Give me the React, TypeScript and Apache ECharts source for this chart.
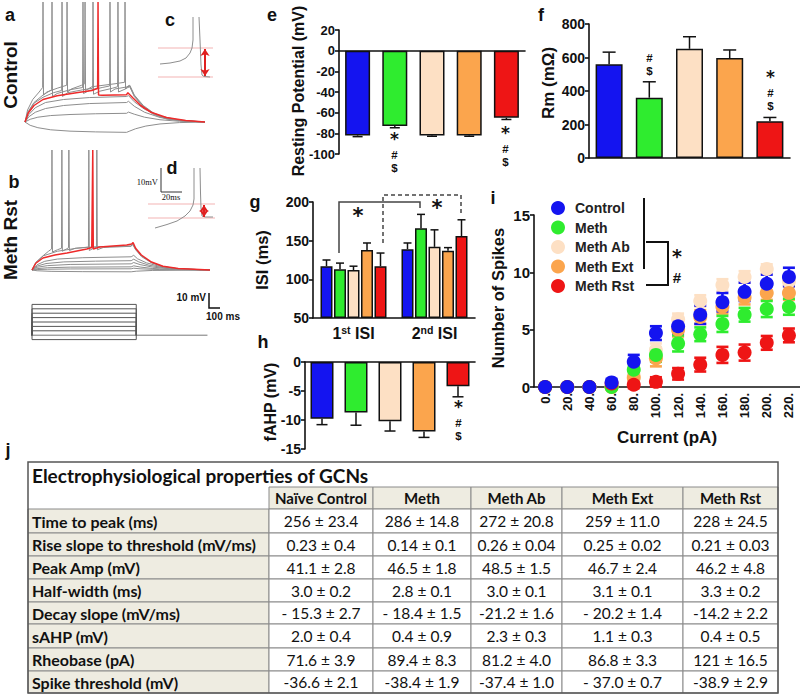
import React, { useEffect, useRef } from 'react';
import * as echarts from 'echarts';

// ---------------- data ----------------
const groups = ['Control', 'Meth', 'Meth Ab', 'Meth Ext', 'Meth Rst'];
const groupColors = ['#1414f0', '#2fec2f', '#fde0c4', '#fba54d', '#ee1515'];

// e: resting potential (mV)
const restMean = [-82, -73, -82, -82, -65];
const restErr = [1.2, 1.6, 0.8, 0.8, 1.6];
// f: Rm
const rmMean = [560, 360, 652, 597, 220];
const rmErr = [72, 95, 72, 48, 22];
// g: ISI (ms)
const isiGroups = ['1st', '2nd'];
const isi1Mean = [117, 113, 112, 138, 117];
const isi1Err = [8, 8, 5, 9, 17];
const isi2Mean = [139, 166, 142, 137, 156];
const isi2Err = [8, 18, 22, 4, 21];
// h: fAHP (mV)
const fahpMean = [-9.8, -8.7, -10.2, -12.0, -4.2];
const fahpErr = [1.0, 2.2, 1.7, 1.0, 1.8];
// i: number of spikes vs current
const currents = ['0.', '20.', '40.', '60.', '80.', '100.', '120.', '140.', '160.', '180.', '200.', '220.'];
const spikesControl = [0, 0, 0, 0.4, 2.2, 4.7, 5.3, 6.3, 7.4, 8.3, 9.0, 9.6];
const errControl = [0, 0, 0, 0.3, 0.6, 0.6, 0.6, 0.8, 0.8, 0.8, 0.8, 0.8];
const spikesMeth = [0, 0, 0, 0, 1.5, 2.8, 3.8, 4.6, 5.5, 6.3, 6.8, 7.0];
const errMeth = [0, 0, 0, 0, 0.4, 0.6, 0.7, 0.6, 0.7, 0.6, 0.7, 0.7];
const spikesMethAb = [0, 0, 0, 0, 1.0, 3.2, 5.9, 7.5, 8.9, 9.6, 10.3, 9.2];
const errMethAb = [0, 0, 0, 0, 0.4, 0.6, 0.5, 0.5, 0.5, 0.5, 0.4, 0.5];
const spikesMethExt = [0, 0, 0, 0, 0.8, 2.5, 5.0, 6.1, 7.0, 7.8, 8.2, 8.2];
const errMethExt = [0, 0, 0, 0.2, 0.5, 0.7, 0.6, 0.6, 0.6, 0.6, 0.6, 0.6];
const spikesMethRst = [0, 0, 0, 0.3, 0.2, 0.45, 1.15, 1.95, 2.8, 3.0, 3.85, 4.5];
const errMethRst = [0, 0, 0, 0.1, 0.3, 0.4, 0.5, 0.6, 0.7, 0.7, 0.6, 0.6];

// j: table
const tableTitle = 'Electrophysiological properties of GCNs';
const tableCols = ['Naïve Control', 'Meth', 'Meth Ab', 'Meth Ext', 'Meth Rst'];
const tableRows = ['Time to peak (ms)', 'Rise slope to threshold (mV/ms)', 'Peak Amp (mV)', 'Half-width (ms)',
  'Decay slope (mV/ms)', 'sAHP (mV)', 'Rheobase (pA)', 'Spike threshold (mV)'];
const colNaive = ['256 ± 23.4', '0.23 ± 0.4', '41.1 ± 2.8', '3.0 ± 0.2', '- 15.3 ± 2.7', '2.0 ± 0.4', '71.6 ± 3.9', '-36.6 ± 2.1'];
const colMeth = ['286 ± 14.8', '0.14 ± 0.1', '46.5 ± 1.8', '2.8 ± 0.1', '- 18.4 ± 1.5', '0.4 ± 0.9', '89.4 ± 8.3', '-38.4 ± 1.9'];
const colMethAb = ['272 ± 20.8', '0.26 ± 0.04', '48.5 ± 1.5', '3.0 ± 0.1', '-21.2 ± 1.6', '2.3 ± 0.3', '81.2 ± 4.0', '-37.4 ± 1.0'];
const colMethExt = ['259 ± 11.0', '0.25 ± 0.02', '46.7 ± 2.4', '3.1 ± 0.1', '- 20.2 ± 1.4', '1.1 ± 0.3', '86.8 ± 3.3', '- 37.0 ± 0.7'];
const colMethRst = ['228 ± 24.5', '0.21 ± 0.03', '46.2 ± 4.8', '3.3 ± 0.2', '-14.2 ± 2.2', '0.4 ± 0.5', '121 ± 16.5', '-38.9 ± 2.9'];

// traces (time ms, mV relative to rest)
const aHyper = [[0, 0], [40, -2.2], [100, -3.8], [200, -5.2], [350, -6.1], [550, -6.6], [790, -6.9], [810, -6.2], [860, -4.5], [940, -2.7], [1050, -1.3], [1200, -0.4], [1400, 0]];
const aSub1 = [[0, 0], [40, 1.8], [100, 3.2], [200, 4.3], [350, 5], [550, 5.5], [790, 5.8], [805, 6.6], [850, 5.2], [930, 3.2], [1050, 1.5], [1200, 0.5], [1400, 0]];
const aSub2 = [[0, 0], [30, 3.5], [80, 6.5], [160, 9], [300, 11], [500, 12.3], [790, 13], [805, 13.8], [850, 10.5], [930, 6.5], [1050, 3], [1200, 1], [1400, 0]];
const aSub3 = [[0, 0], [30, 5], [80, 9.5], [160, 13], [300, 15], [500, 16.3], [790, 17], [805, 17.6], [850, 13.5], [930, 8.5], [1050, 4], [1200, 1.3], [1400, 0]];
const aRed = [[0, 0], [25, 6], [70, 11], [140, 15], [250, 17.5], [400, 19.5], [520, 21], [565, 22.5], [568, 80], [572, 18], [600, 17.8], [790, 18.2], [800, 19.5], [840, 16], [900, 11], [980, 6.5], [1100, 3], [1250, 1], [1400, 0]];
const aSpk1 = [[0, 0], [20, 8], [60, 15], [110, 20], [137, 23], [140, 80], [144, 18], [170, 20], [250, 22.5], [324, 24.5], [327, 80], [331, 20], [360, 22], [440, 24.5], [464, 25.5], [467, 80], [471, 21], [520, 23.5], [700, 25.5], [775, 26.5], [778, 80], [782, 22], [800, 24], [815, 24.5], [850, 18], [920, 11], [1000, 6], [1100, 2.5], [1250, 0.8], [1400, 0]];
const aSpk2 = [[0, 0], [25, 7], [70, 13], [140, 18], [207, 21.5], [210, 80], [214, 17], [250, 19], [350, 21.5], [448, 23], [451, 80], [455, 19], [500, 21], [600, 23], [658, 24], [661, 80], [665, 20], [700, 22], [800, 23.5], [815, 24], [850, 17.5], [920, 10.5], [1000, 5.5], [1100, 2.2], [1250, 0.7], [1400, 0]];
const aSpk3 = [[0, 0], [25, 6.5], [70, 12.5], [140, 16.5], [220, 19.5], [285, 21], [288, 80], [292, 17], [330, 19.5], [450, 21.5], [526, 22.5], [529, 80], [533, 18.5], [580, 20.5], [680, 22.5], [720, 23.5], [723, 80], [727, 20], [780, 22], [800, 23], [815, 23.5], [850, 17], [920, 10], [1000, 5], [1100, 2], [1250, 0.6], [1400, 0]];

const bSub0 = [[0, 0], [40, -0.5], [150, -0.9], [400, -1.1], [780, -1.2], [820, -0.8], [950, -0.3], [1400, 0]];
const bSub1 = [[0, 0], [40, 0.3], [120, 0.5], [300, 0.7], [780, 0.8], [800, 1.2], [850, 0.8], [1000, 0.3], [1400, 0]];
const bSub2 = [[0, 0], [40, 0.9], [120, 1.5], [300, 1.9], [780, 2.1], [800, 2.8], [850, 2], [950, 1], [1100, 0.4], [1400, 0]];
const bSub3 = [[0, 0], [40, 1.8], [120, 2.9], [300, 3.7], [780, 4.1], [800, 5], [850, 3.6], [950, 1.9], [1100, 0.7], [1400, 0]];
const bSub4 = [[0, 0], [40, 2.6], [110, 4.3], [250, 5.4], [500, 5.9], [780, 6.2], [800, 7.2], [840, 5.4], [920, 3.2], [1050, 1.3], [1200, 0.4], [1400, 0]];
const bSub5 = [[0, 0], [40, 3.5], [100, 5.8], [200, 7.3], [400, 8.2], [780, 8.8], [800, 9.8], [830, 7.5], [900, 4.8], [1000, 2.5], [1150, 0.8], [1400, 0]];
const bRed = [[0, 0], [30, 4.5], [86, 8], [180, 10], [275, 11.3], [431, 14], [470, 15], [478, 80], [482, 14], [533, 15.3], [745, 16.7], [784, 17.3], [795, 18.3], [815, 14.5], [860, 10], [940, 5.3], [1030, 2.5], [1150, 1], [1400, 0]];
const bSpk1 = [[0, 0], [30, 5], [80, 9], [130, 12.5], [154, 14], [157, 80], [161, 12], [200, 13.5], [232, 14.5], [235, 80], [239, 12.5], [270, 14], [287, 14.8], [290, 80], [294, 13], [340, 14.5], [500, 15.5], [780, 16], [792, 17.5], [815, 14], [860, 9.5], [940, 5], [1030, 2.3], [1150, 0.8], [1400, 0]];
const bSpk2 = [[0, 0], [30, 5], [90, 9.5], [200, 12.5], [350, 14.5], [444, 15.3], [447, 80], [451, 13], [490, 14.8], [507, 15.5], [510, 80], [514, 13.5], [560, 15], [780, 15.8], [792, 17], [815, 13.5], [860, 9], [940, 4.8], [1030, 2.2], [1150, 0.8], [1400, 0]];

// current step protocol (pA)
const stepLevels = [-20, 20, 40, 60, 80, 100, 120, 140];
const stepDuration = 820;

// insets c, d (local units)
const cTraceUp = [[5, 16], [15, 17], [25, 19], [31, 22], [35, 27], [37, 32], [38, 40], [38, 63]];
const cTraceDown = [[44, 63], [45, 40], [46, 15], [47, 5], [49, 3.5], [55, 3]];
const cThreshold = 32;
const cTrough = 3;
const dTraceUp = [[10, 5], [22, 8.5], [32, 12], [40, 17], [45, 22], [48, 28], [49, 34], [49, 65]];
const dTraceDown = [[55, 65], [55.5, 40], [56, 25], [57, 17], [60, 16], [68, 16]];
const dThreshold = 29;
const dTrough = 15;

// ---------------- helpers ----------------
const FONT = '"Liberation Sans", Arial, Helvetica, sans-serif';
const STARFONT = '"DejaVu Sans", "Liberation Sans", sans-serif';
const TFONT = 'Lato, "Open Sans", sans-serif';
const INK = '#111';
const GRAY = '#8e8e8e';
const PINK = '#f3b3b3';

const axisLineStyle = { lineStyle: { color: INK, width: 1.6 } };
const tickStyle = { show: true, length: 4, lineStyle: { color: INK, width: 1.6 } };
const labelStyle = (size: number) => ({ fontFamily: FONT, fontWeight: 'bold', fontSize: size, color: INK, margin: 4 });

const hiddenAxis = (gridIndex: number, min: number, max: number) => ({ type: 'value', gridIndex, min, max, show: false, splitLine: { show: false } });

const trace = (data: number[][], grid: number, color = GRAY, width = 1, z = 2) => ({
  type: 'line', xAxisIndex: grid, yAxisIndex: grid, data, symbol: 'none', silent: true,
  lineStyle: { color, width }, z,
});

const errRenderOneSided = (cap: number) => (params: any, api: any) => {
  const x = api.value(0);
  const p1 = api.coord([x, api.value(1)]);
  const p2 = api.coord([x, api.value(2)]);
  const st = { stroke: INK, lineWidth: 1.5 };
  return {
    type: 'group', children: [
      { type: 'line', shape: { x1: p1[0], y1: p1[1], x2: p2[0], y2: p2[1] }, style: st },
      { type: 'line', shape: { x1: p2[0] - cap / 2, y1: p2[1], x2: p2[0] + cap / 2, y2: p2[1] }, style: st },
    ],
  };
};

const errRenderTwoSided = (cap: number, color: string) => (params: any, api: any) => {
  const x = api.value(0);
  const p1 = api.coord([x, api.value(1)]);
  const p2 = api.coord([x, api.value(2)]);
  const st = { stroke: color, lineWidth: 2.6 };
  return {
    type: 'group', children: [
      { type: 'line', shape: { x1: p1[0], y1: p1[1], x2: p2[0], y2: p2[1] }, style: st },
      { type: 'line', shape: { x1: p1[0] - cap / 2, y1: p1[1], x2: p1[0] + cap / 2, y2: p1[1] }, style: st },
      { type: 'line', shape: { x1: p2[0] - cap / 2, y1: p2[1], x2: p2[0] + cap / 2, y2: p2[1] }, style: st },
    ],
  };
};

const T = (x: number, y: number, text: string, size: number, extra: any = {}, rot = 0) => ({
  type: 'text', x, y, rotation: rot, silent: true,
  style: { text, fontSize: size, fontWeight: 'bold', fontFamily: FONT, fill: INK, align: 'center', verticalAlign: 'middle', ...extra },
});

// stacked significance marks, separate texts spaced so they do not collide
const marks = (x: number, first: number, parts: string[]) => {
  const out: any[] = [];
  let y = first;
  parts.forEach((p) => {
    if (p === '*') {
      out.push(T(x, y + 1, '*', 17, { fontFamily: STARFONT }));
      y += 17;
    } else {
      out.push(T(x, y, p, 11.5));
      y += 13.4;
    }
  });
  return out;
};

const PL = (points: number[][], width = 1.5, dash: number[] | null = null, color = INK) => ({
  type: 'polyline', silent: true, shape: { points },
  style: { stroke: color, lineWidth: width, fill: 'none', lineDash: dash || undefined },
});

function buildTable() {
  const colX = [28, 269, 373, 471, 562, 683, 778];
  const rowY = [462, 487, 509, 533, 556, 579, 602, 624, 648, 671, 693];
  const beige = '#eeece1';
  const line = '#8a8a8a';
  const cols = [colNaive, colMeth, colMethAb, colMethExt, colMethRst];
  const els: any[] = [];
  els.push({ type: 'rect', silent: true, shape: { x: colX[0], y: rowY[0], width: colX[6] - colX[0], height: rowY[10] - rowY[0] }, style: { fill: '#fff', stroke: null } });
  els.push({ type: 'text', silent: true, x: 32, y: 475, style: { text: tableTitle, fontFamily: TFONT, fontWeight: 'bold', fontSize: 19, fill: INK, align: 'left', verticalAlign: 'middle' } });
  tableCols.forEach((name, c) => {
    els.push({ type: 'rect', silent: true, shape: { x: colX[c + 1], y: rowY[1], width: colX[c + 2] - colX[c + 1], height: rowY[2] - rowY[1] }, style: { fill: beige, stroke: line, lineWidth: 1 } });
    els.push({ type: 'text', silent: true, x: (colX[c + 1] + colX[c + 2]) / 2, y: (rowY[1] + rowY[2]) / 2, style: { text: name, fontFamily: TFONT, fontWeight: 'bold', fontSize: 15, fill: INK, align: 'center', verticalAlign: 'middle' } });
  });
  tableRows.forEach((name, r) => {
    const y0 = rowY[r + 2];
    const y1 = rowY[r + 3];
    els.push({ type: 'rect', silent: true, shape: { x: colX[0], y: y0, width: colX[1] - colX[0], height: y1 - y0 }, style: { fill: beige, stroke: line, lineWidth: 1 } });
    els.push({ type: 'text', silent: true, x: 32, y: (y0 + y1) / 2, style: { text: name, fontFamily: TFONT, fontWeight: 'bold', fontSize: 16, fill: INK, align: 'left', verticalAlign: 'middle' } });
    cols.forEach((col, c) => {
      els.push({ type: 'rect', silent: true, shape: { x: colX[c + 1], y: y0, width: colX[c + 2] - colX[c + 1], height: y1 - y0 }, style: { fill: '#fff', stroke: line, lineWidth: 1 } });
      els.push({ type: 'text', silent: true, x: (colX[c + 1] + colX[c + 2]) / 2, y: (y0 + y1) / 2, style: { text: col[r], fontFamily: TFONT, fontSize: 15.5, fill: INK, align: 'center', verticalAlign: 'middle' } });
    });
  });
  els.push({ type: 'rect', silent: true, shape: { x: colX[0], y: rowY[0], width: colX[6] - colX[0], height: rowY[10] - rowY[0] }, style: { fill: 'none', stroke: '#555', lineWidth: 1.5 } });
  return els;
}

function buildOption(): any {
  const grids = [
    { left: 25, top: 2, width: 180, height: 135 },   // 0 a
    { left: 32, top: 150, width: 178, height: 135 }, // 1 b
    { left: 32, top: 300, width: 178, height: 44 },  // 2 step
    { left: 155, top: 0, width: 60, height: 80 },    // 3 c
    { left: 145, top: 165, width: 72, height: 68 },  // 4 d
    { left: 339, top: 30, width: 186, height: 124 }, // 5 e
    { left: 589, top: 24, width: 201, height: 134 }, // 6 f
    { left: 313, top: 202, width: 162, height: 116 },// 7 g
    { left: 305, top: 362, width: 170, height: 87 }, // 8 h
    { left: 534, top: 215, width: 266, height: 172 },// 9 i
  ].map((g) => ({ ...g, outerBoundsMode: 'none', containLabel: false }));

  const catAxis = (gridIndex: number, data: string[]) => ({
    type: 'category', gridIndex, data, axisLine: { onZero: true, ...axisLineStyle }, axisTick: { show: false }, axisLabel: { show: false }, splitLine: { show: false },
  });
  const valAxis = (gridIndex: number, min: number, max: number, interval: number, size = 14) => ({
    type: 'value', gridIndex, min, max, interval, axisLine: { show: true, ...axisLineStyle }, axisTick: tickStyle,
    axisLabel: labelStyle(size), splitLine: { show: false },
  });

  const xAxis: any[] = [
    hiddenAxis(0, 0, 1400), hiddenAxis(1, 0, 1400), hiddenAxis(2, 0, 1400), hiddenAxis(3, 0, 60), hiddenAxis(4, 0, 72),
    catAxis(5, groups),
    catAxis(6, groups),
    {
      type: 'value', gridIndex: 7, min: 0, max: 12, interval: 3, axisLine: { show: true, onZero: false, ...axisLineStyle }, axisTick: { show: false }, splitLine: { show: false },
      axisLabel: {
        margin: 6,
        formatter: (v: number) => (v === 3 ? `{a|1}{s|${isiGroups[0].slice(1)}}{a| ISI}` : v === 9 ? `{a|2}{s|${isiGroups[1].slice(1)}}{a| ISI}` : ''),
        rich: {
          a: { fontFamily: FONT, fontWeight: 'bold', fontSize: 16, color: INK },
          s: { fontFamily: FONT, fontWeight: 'bold', fontSize: 10.5, color: INK, padding: [0, 0, 8, 0] },
        },
      },
    },
    catAxis(8, groups),
    {
      type: 'category', gridIndex: 9, data: currents, axisLine: { show: true, onZero: false, ...axisLineStyle }, axisTick: { show: false }, splitLine: { show: false },
      axisLabel: { ...labelStyle(13), rotate: 90, margin: 6, interval: 0 },
    },
  ];
  const yAxis: any[] = [
    hiddenAxis(0, -10, 80), hiddenAxis(1, -10, 80), hiddenAxis(2, -40, 160), hiddenAxis(3, 0, 80), hiddenAxis(4, 0, 68),
    valAxis(5, -100, 20, 20, 13),
    valAxis(6, 0, 800, 200, 14),
    { ...valAxis(7, 50, 200, 50, 14), startValue: 50 },
    valAxis(8, -15, 0, 5, 14),
    valAxis(9, 0, 15, 5, 15),
  ];

  const series: any[] = [];
  // panel a traces
  [aHyper, aSub1, aSub2, aSub3, aSpk1, aSpk2, aSpk3].forEach((d) => series.push(trace(d, 0)));
  series.push(trace(aRed, 0, '#ee2a2a', 1.5, 3));
  // panel b traces
  [bSub0, bSub1, bSub2, bSub3, bSub4, bSub5, bSpk1, bSpk2].forEach((d) => series.push(trace(d, 1)));
  series.push(trace(bRed, 1, '#ee2a2a', 1.5, 3));
  // step protocol
  series.push(trace([[-30, 0], [1380, 0]], 2, '#777', 1));
  stepLevels.forEach((L) => series.push(trace([[0, 0], [0, L], [stepDuration, L], [stepDuration, 0]], 2, '#555', 1)));
  // insets
  const inset = (grid: number, up: number[][], down: number[][], thr: number, trough: number, xs: number[], ax: number) => {
    series.push(trace([[xs[0], thr], [xs[1], thr]], grid, PINK, 1));
    series.push({
      ...trace([[xs[0], trough], [xs[1], trough]], grid, PINK, 1),
      markLine: {
        silent: true, symbol: ['arrow', 'arrow'], symbolSize: 7, label: { show: false },
        lineStyle: { color: '#e02020', width: 2, type: 'solid' },
        data: [[{ coord: [ax, thr - 1] }, { coord: [ax, trough + 1] }]],
      },
    });
    series.push(trace(up, grid, GRAY, 1));
    series.push(trace(down, grid, GRAY, 1));
  };
  inset(3, cTraceUp, cTraceDown, cThreshold, cTrough, [3, 58], 50);
  inset(4, dTraceUp, dTraceDown, dThreshold, dTrough, [3, 70], 59);

  // e
  const barItems = (vals: number[]) => vals.map((v, i) => ({ value: v, itemStyle: { color: groupColors[i] } }));
  const barStyle = { borderColor: INK, borderWidth: 1.5 };
  series.push({ type: 'bar', xAxisIndex: 5, yAxisIndex: 5, data: barItems(restMean), barWidth: 25, itemStyle: barStyle });
  series.push({ type: 'custom', xAxisIndex: 5, yAxisIndex: 5, data: restMean.map((v, i) => [i, v, v - restErr[i]]), renderItem: errRenderOneSided(10), z: 1 });
  // f
  series.push({ type: 'bar', xAxisIndex: 6, yAxisIndex: 6, data: barItems(rmMean), barWidth: 27, itemStyle: barStyle, z: 3 });
  series.push({ type: 'custom', xAxisIndex: 6, yAxisIndex: 6, data: rmMean.map((v, i) => [i, v, v + rmErr[i]]), renderItem: errRenderOneSided(13), z: 2 });
  // g
  const isiBars: any[] = [];
  const isiErr: any[] = [];
  [[isi1Mean, isi1Err], [isi2Mean, isi2Err]].forEach(([m, e], g) => {
    m.forEach((v, i) => {
      const pos = g * 6 + i + 1;
      isiBars.push({ value: [pos, v], itemStyle: { color: groupColors[i] } });
      isiErr.push([pos, v, v + e[i]]);
    });
  });
  series.push({ type: 'bar', xAxisIndex: 7, yAxisIndex: 7, data: isiBars, barWidth: 12, itemStyle: barStyle, z: 3 });
  series.push({ type: 'custom', xAxisIndex: 7, yAxisIndex: 7, data: isiErr, renderItem: errRenderOneSided(8), z: 2 });
  // h
  series.push({ type: 'bar', xAxisIndex: 8, yAxisIndex: 8, data: barItems(fahpMean), barWidth: 23, itemStyle: barStyle, z: 3 });
  series.push({ type: 'custom', xAxisIndex: 8, yAxisIndex: 8, data: fahpMean.map((v, i) => [i, v, v - fahpErr[i]]), renderItem: errRenderOneSided(11), z: 2 });
  // i
  const spikeSets: [number, number[], number[]][] = [
    [2, spikesMethAb, errMethAb], [3, spikesMethExt, errMethExt], [1, spikesMeth, errMeth], [4, spikesMethRst, errMethRst], [0, spikesControl, errControl],
  ];
  spikeSets.forEach(([gi, vals, errs]) => {
    series.push({
      type: 'custom', name: 'err ' + groups[gi], xAxisIndex: 9, yAxisIndex: 9, z: 3,
      data: vals.map((v, i) => [i, v - errs[i], v + errs[i]]), renderItem: errRenderTwoSided(12, groupColors[gi]),
    });
    series.push({
      type: 'scatter', name: groups[gi], xAxisIndex: 9, yAxisIndex: 9, z: 3, data: vals, symbol: 'circle', symbolSize: 14,
      itemStyle: { color: groupColors[gi], opacity: 1 },
    });
  });

  const graphic: any[] = [
    // panel letters
    T(10, 15, 'a', 18), T(14, 182, 'b', 18), T(170, 20, 'c', 18), T(172, 168, 'd', 18),
    T(272, 15, 'e', 18), T(541, 15, 'f', 18), T(255, 202, 'g', 18), T(263, 342, 'h', 18),
    T(493, 198, 'i', 18), T(8, 450, 'j', 18),
    // row labels
    T(10, 75, 'Control', 19, {}, Math.PI / 2),
    T(10, 240, 'Meth Rst', 19, {}, Math.PI / 2),
    // axis titles
    T(298, 91, 'Resting Potential (mV)', 16, {}, Math.PI / 2),
    T(548, 83, 'Rm (mΩ)', 17, {}, Math.PI / 2),
    T(262, 260, 'ISI (ms)', 16.5, {}, Math.PI / 2),
    T(270, 402, 'fAHP (mV)', 16, {}, Math.PI / 2),
    T(498, 298, 'Number of Spikes', 16.5, {}, Math.PI / 2),
    T(667, 437, 'Current (pA)', 17),
    // significance marks
    ...marks(394.5, 138, ['*', '#', '$']),
    ...marks(505.5, 132, ['*', '#', '$']),
    ...marks(649.5, 58, ['#', '$']),
    ...marks(770.5, 76, ['*', '#', '$']),
    ...marks(458.5, 406, ['*', '#', '$']),
    // g brackets
    PL([[339, 253], [339, 202], [420, 202], [420, 208]], 1.5, null, '#444'),
    PL([[383, 243], [383, 195], [461, 195], [461, 213]], 1.5, [4, 3], '#444'),
    T(358, 216, '*', 21, { fontFamily: STARFONT }), T(437, 208, '*', 21, { fontFamily: STARFONT }),
    // i bracket
    PL([[644, 198], [644, 269]], 2),
    PL([[646, 242], [668, 242], [668, 285], [646, 285]], 2),
    T(677, 256, '*', 19, { fontFamily: STARFONT }), T(677, 277, '#', 15),
    // scale bars
    PL([[209, 293], [209, 308], [220, 308]], 1.5),
    T(206, 297, '10 mV', 10, { align: 'right' }),
    T(223, 316, '100 ms', 10),
    PL([[161, 168], [161, 192], [182, 192]], 1, null, '#333'),
    T(158, 182, '10mV', 8.5, { align: 'right', fontWeight: 'normal', fontFamily: '"Liberation Serif", serif' }),
    T(171, 197, '20ms', 8.5, { fontWeight: 'normal', fontFamily: '"Liberation Serif", serif' }),
    ...buildTable(),
  ];

  return {
    animation: false,
    backgroundColor: '#fff',
    grid: grids,
    xAxis,
    yAxis,
    series,
    legend: {
      data: groups, orient: 'vertical', left: 546, top: 196, itemWidth: 24, itemHeight: 14, itemGap: 5.5,
      icon: 'circle', selectedMode: false,
      textStyle: { fontFamily: FONT, fontWeight: 'bold', fontSize: 14, color: '#222' },
    },
    graphic: { elements: graphic },
  };
}

export default function App() {
  const ref = useRef<HTMLDivElement>(null);
  useEffect(() => {
    document.body.style.margin = '0';
    if (!ref.current) return;
    const chart = echarts.init(ref.current, undefined, { renderer: 'svg' });
    chart.setOption(buildOption());
    return () => chart.dispose();
  }, []);
  return <div ref={ref} style={{ position: 'absolute', left: 0, top: 0, width: 800, height: 694 }} />;
}
